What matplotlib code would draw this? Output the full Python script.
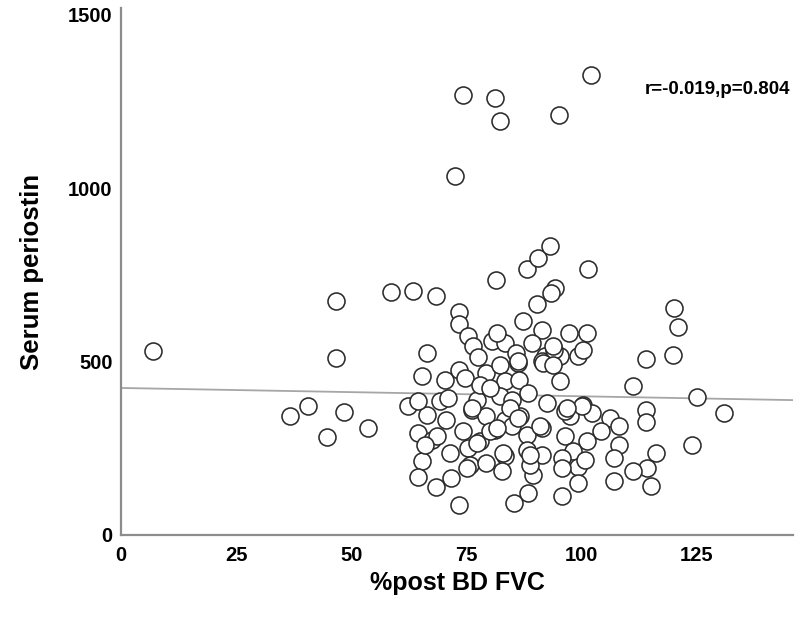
import matplotlib
matplotlib.use("Agg")
import numpy as np
import matplotlib.pyplot as plt

# %post BD FVC vs serum periostin
fvc = [
    74.3, 81.2, 82.3, 95.1, 102.1, 72.5,
    81.5, 88.2, 90.6, 93.2, 101.4, 94.3, 93.5, 90.3,
    120.1, 121.0, 119.9, 114.0, 111.2, 125.1, 131.0, 114.0, 114.0,
    100.3, 102.3, 97.5, 106.2, 108.2, 104.3, 96.4, 101.2, 108.2,
    98.2, 95.8, 107.1, 116.2, 124.0, 114.2, 111.2, 99.3, 99.3,
    107.1, 115.1, 95.8,
    7.0, 46.7, 46.7, 40.6, 36.7, 48.4, 44.7, 53.6,
    58.6, 63.4, 68.4, 73.4, 73.4, 87.3, 75.4, 76.5, 77.5,
    91.4, 97.3, 101.2, 81.6, 80.5, 83.4, 89.2, 85.9, 92.1,
    91.4, 95.4, 94.0, 99.3, 100.3, 66.4, 65.4, 70.4, 73.4,
    74.7, 79.4, 82.3, 86.2, 83.4, 86.4, 95.4, 62.3, 66.4,
    69.3, 71.0, 64.5, 77.3, 82.3, 84.9, 88.4, 92.5, 76.2, 79.4,
    83.4, 86.7, 84.5, 96.4, 100.1, 64.5, 67.5, 70.6, 74.3, 78.0,
    81.2, 84.9, 88.1, 91.4, 65.3, 71.5, 75.4, 75.8, 79.4, 83.4,
    82.7, 88.1, 91.4, 95.7, 89.5, 64.5, 68.4, 71.6, 88.4, 73.4, 85.4,
    68.6, 66.0, 75.2, 77.3, 80.1, 76.2, 100.8, 88.8,
    93.8, 91.7, 93.8, 86.2, 81.7, 78.0, 80.1,
    83.0, 81.7, 96.9, 91.0, 86.2, 88.8,
]
periostin = [
    1269, 1260, 1194, 1211, 1327, 1035,
    735, 767, 799, 834, 767, 712, 698, 666,
    655, 600, 519, 508, 430, 398, 352, 360, 326,
    375, 352, 343, 337, 314, 300, 286, 271, 260,
    242, 222, 222, 236, 260, 193, 185, 196, 150,
    156, 141, 112,
    531, 675, 510, 372, 343, 355, 283, 309,
    701, 705, 689, 643, 609, 617, 574, 545, 513,
    592, 583, 583, 574, 560, 554, 554, 525, 516,
    502, 516, 534, 516, 534, 525, 459, 448, 477,
    453, 467, 491, 496, 444, 448, 444, 372, 347,
    386, 395, 386, 390, 401, 390, 410, 381, 361, 343,
    333, 343, 366, 358, 372, 294, 275, 333, 300, 271,
    304, 314, 289, 309, 213, 236, 251, 203, 208, 228,
    185, 246, 232, 193, 174, 167, 138, 164, 121, 87, 92,
    286, 260, 193, 265, 300, 366, 216, 202,
    545, 496, 489, 502, 583, 432, 424,
    236, 309, 366, 314, 337, 231,
]

# fit line as drawn in the source chart
fit_intercept = 424.0
fit_slope = -0.24
annot = "r=-0.019,p=0.804"

plt.rcParams["font.family"] = ["Liberation Sans", "DejaVu Sans"]

fig = plt.figure(figsize=(8.0, 6.23), dpi=100)
ax = fig.add_axes([0.1513, 0.1413, 0.8400, 0.8459])

xmin, xmax = 0, 146
ax.set_xlim(xmin, xmax)
ax.set_ylim(0, 1520)

xs = np.array([xmin, xmax])
ax.plot(xs, fit_intercept + fit_slope * xs, color="#a6a6a6", lw=1.3, zorder=2)

ax.scatter(fvc, periostin, s=150, facecolor="white", edgecolor="#2b2b2b",
           linewidths=1.15, zorder=3)

ax.text(0.78, 0.845, annot, transform=ax.transAxes, fontsize=13.5,
        fontweight="bold", ha="left", va="center")

for side in ("top", "right"):
    ax.spines[side].set_visible(False)
for side in ("left", "bottom"):
    ax.spines[side].set_color("#8c8c8c")
    ax.spines[side].set_linewidth(1.6)

ax.set_xticks([0, 25, 50, 75, 100, 125])
ax.set_yticks([0, 500, 1000, 1500])
ax.tick_params(length=0, labelsize=14.5)
ax.tick_params(axis="x", pad=8)
ax.tick_params(axis="y", pad=6)
for lab in ax.get_xticklabels() + ax.get_yticklabels():
    lab.set_fontweight("bold")

ax.set_xlabel("%post BD FVC", fontsize=18, fontweight="bold", labelpad=4)
ax.set_ylabel("Serum periostin", fontsize=18.5, fontweight="bold", labelpad=17)

fig.savefig("out.png", dpi=100)
